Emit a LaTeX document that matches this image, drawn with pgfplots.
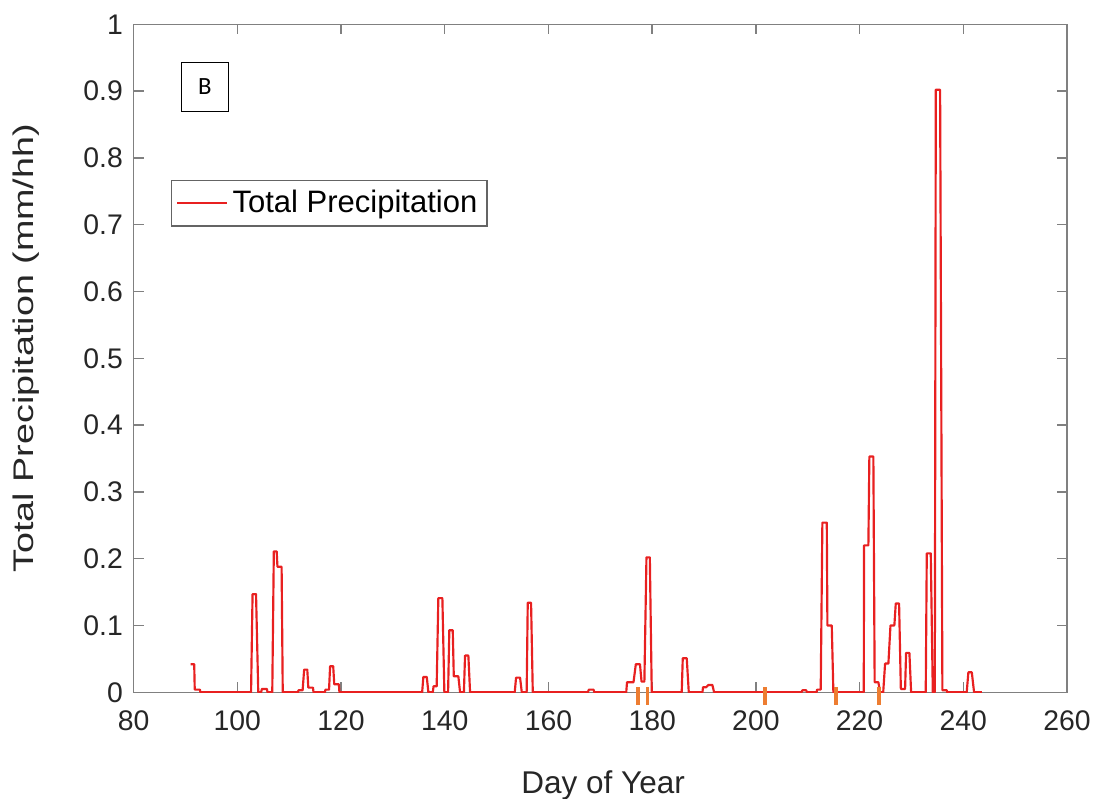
\documentclass[border=0pt]{standalone}
\usepackage{fontspec}
\setmainfont{Liberation Sans}
\newfontfamily\boxfont{Carlito}
\usepackage{pgfplots}
\pgfplotsset{compat=1.18}

\definecolor{axgray}{RGB}{128,128,128}
\definecolor{txt}{RGB}{38,38,38}
\definecolor{legedge}{RGB}{100,100,100}
\definecolor{precip}{RGB}{232,32,32}
\definecolor{daymark}{RGB}{237,125,49}

\begin{document}
\begin{tikzpicture}
\useasboundingbox (-1.953,-1.546) rectangle (14.047,10.125);
\begin{axis}[
    scale only axis,
    width=13.653cm, height=9.770cm,
    xmin=80, xmax=260, ymin=0, ymax=1,
    xtick={80,100,...,260},
    ytick={0,0.1,0.2,0.3,0.4,0.5,0.6,0.7,0.8,0.9,1},
    yticklabels={0,0.1,0.2,0.3,0.4,0.5,0.6,0.7,0.8,0.9,1},
    tick align=inside,
    major tick length=0.146cm,
    axis line style={axgray, line width=0.6pt},
    tick style={axgray, line width=0.6pt},
    /pgf/number format/assume math mode=true,
    ticklabel style={font=\fontsize{11.8}{14}\selectfont, text=txt},
    xticklabel style={anchor=base, yshift=-0.562cm},
    yticklabel style={anchor=east, xshift=-0.033cm},
    xlabel={Day of Year},
    ylabel={\scalebox{1.33}[1]{Total Precipitation (mm/hh)}},
    every axis x label/.style={at={(axis description cs:0.503,0)}, anchor=base,
        yshift=-1.473cm, font=\fontsize{13.1}{16}\selectfont, text=txt},
    every axis y label/.style={at={(axis description cs:0,0.515)}, xshift=-1.47cm,
        rotate=90, anchor=base, font=\fontsize{11.8}{14}\selectfont, text=txt},
    clip mode=individual,
    legend style={at={(rel axis cs:0.040,0.767)}, anchor=north west,
        draw=legedge, line width=0.6pt, fill=white,
        font=\fontsize{12.9}{15}\selectfont, text=black,
        inner xsep=2pt, inner ysep=2pt},
    legend cell align=left,
    legend image code/.code={\draw[#1, line width=0.9pt] (0cm,0cm) -- (0.72cm,0cm);},
]
\addplot[precip, line width=0.9pt, line join=round] coordinates {
    (91.0,0.042) (91.7,0.042) (91.8,0.004) (92.8,0.004) (92.9,0)
    (102.66,0) (102.95,0.147) (103.62,0.147) (104.05,0)
    (104.6,0) (104.75,0.005) (105.7,0.005) (105.85,0)
    (106.75,0) (107.05,0.211) (107.6,0.211) (107.75,0.188) (108.55,0.188) (108.77,0)
    (111.7,0) (111.8,0.003) (112.6,0.003) (112.9,0.034) (113.5,0.034) (113.7,0.007) (114.6,0.007) (114.7,0)
    (116.9,0) (117.0,0.004) (117.7,0.004) (117.9,0.039) (118.5,0.039) (118.7,0.012) (119.6,0.012) (119.7,0)
    (135.65,0) (135.88,0.023) (136.54,0.023) (136.85,0)
    (137.7,0) (137.85,0.009) (138.45,0.009) (138.77,0.141) (139.55,0.141) (139.93,0)
    (140.65,0) (140.89,0.093) (141.55,0.093) (141.75,0.024) (142.63,0.024) (142.96,0)
    (143.7,0) (143.92,0.055) (144.56,0.055) (144.89,0)
    (153.5,0) (153.76,0.022) (154.53,0.022) (154.86,0)
    (155.8,0) (156.01,0.134) (156.65,0.134) (156.98,0)
    (167.6,0) (167.8,0.004) (168.7,0.004) (168.85,0)
    (175.0,0) (175.15,0.015) (176.4,0.015) (176.85,0.042) (177.65,0.042) (177.95,0.016) (178.5,0.016) (178.9,0.202) (179.55,0.202) (179.92,0)
    (185.7,0) (185.9,0.051) (186.67,0.051) (187.06,0)
    (189.7,0) (189.8,0.0075) (190.4,0.0075) (190.84,0.011) (191.61,0.011) (191.94,0)
    (208.8,0) (208.95,0.003) (209.7,0.003) (209.85,0)
    (211.7,0) (211.8,0.004) (212.5,0.004) (212.82,0.254) (213.67,0.254) (213.79,0.100) (214.63,0.100) (214.94,0)
    (220.8,0) (220.86,0.220) (221.69,0.220) (221.88,0.353) (222.65,0.353) (222.9,0.015) (223.62,0.015) (223.95,0)
    (224.55,0) (224.91,0.043) (225.55,0.043) (225.95,0.100) (226.70,0.100) (226.97,0.133) (227.61,0.133) (227.95,0.005) (228.77,0.005) (228.96,0.059) (229.60,0.059) (229.93,0)
    (232.75,0) (232.95,0.208) (233.72,0.208) (234.11,0) (234.5,0) (234.69,0.902) (235.52,0.902) (235.96,0.003) (236.8,0.003) (236.9,0)
    (240.65,0) (240.97,0.030) (241.63,0.030) (242.07,0) (243.56,0)
};
\addlegendentry{Total Precipitation}

% orange day markers on the x axis
\addplot[only marks, forget plot, mark=|, mark size=3.6pt,
    mark options={daymark, line width=1.4pt, yshift=-1.5pt}] coordinates {
    (177.3,0) (179.15,0) (201.77,0) (215.46,0) (223.76,0)
};

\node[draw=black, line width=0.5pt, minimum width=0.683cm, minimum height=0.721cm,
    inner sep=0pt, font=\boxfont\fontsize{10.3}{12}\selectfont]
    at (rel axis cs:0.0763,0.906) {B};
\end{axis}
\end{tikzpicture}
\end{document}
